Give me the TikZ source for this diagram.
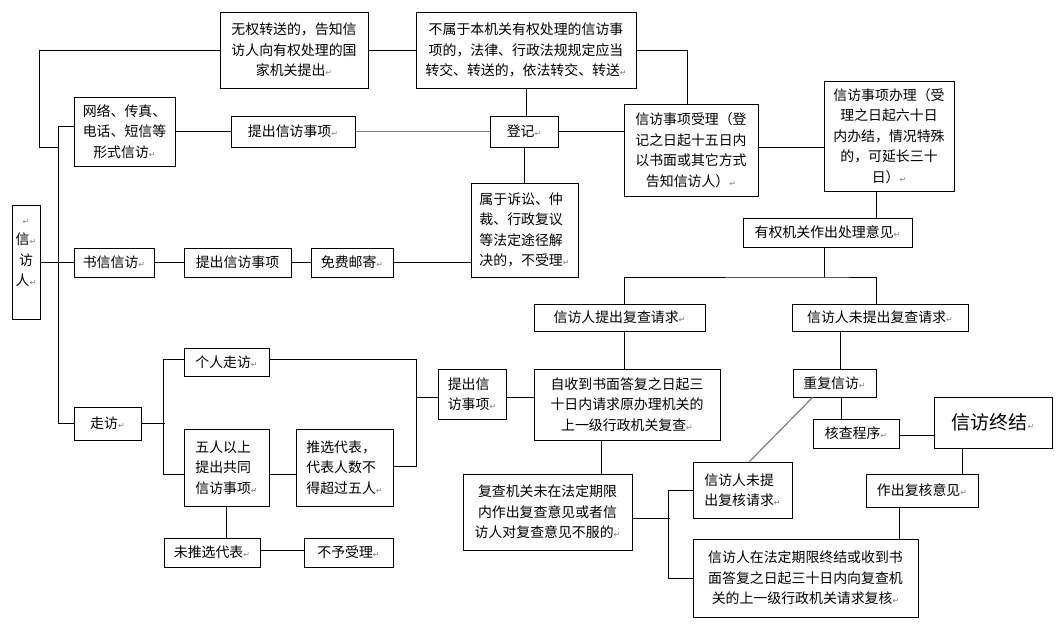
\documentclass[tikz,border=0pt]{standalone}
\usepackage{fontspec}
\usepackage{xcolor}
\usepackage{tikz}
\newfontfamily\cjk{Noto Sans CJK SC}
\newfontfamily\markfont{DejaVu Sans}
\definecolor{markgray}{RGB}{128,128,128}
\newcommand{\retmark}{{\markfont\fontsize{8}{8}\selectfont\textcolor{markgray}{↵}}}
\tikzset{
  rbox/.style={draw, line width=1pt, inner sep=0pt, align=center,
    font=\cjk\fontsize{13.9}{20.5}\selectfont},
  lbox/.style={rbox, align=left},
  link/.style={line width=1pt},
  glink/.style={line width=1.2pt, draw=markgray},
}

\begin{document}
\begin{tikzpicture}[x=1pt, y=-1pt]
\useasboundingbox (0,0) rectangle (1061,630);
% petitioner and channels
\node[rbox, minimum width=28pt, minimum height=114pt] (xfr) at (26,262.5) {\retmark\\信\retmark\\访\\人\retmark\\ \mbox{}};
\node[rbox, minimum width=101pt, minimum height=69pt] (wl) at (124.5,131.5) {网络、传真、\\电话、短信等\\形式信访\retmark};
\node[rbox, minimum width=80pt, minimum height=29pt] (sx) at (114,262.5) {书信信访\retmark};
\node[rbox, minimum width=67pt, minimum height=33pt] (zf) at (107.5,423.5) {走访\retmark};
\node[rbox, minimum width=124pt, minimum height=31pt] (tc1) at (293,131.5) {提出信访事项\retmark};
\node[rbox, minimum width=107pt, minimum height=29pt] (tc2) at (237.5,262.5) {提出信访事项};
\node[rbox, minimum width=82pt, minimum height=29pt] (mf) at (352,262.5) {免费邮寄\retmark};
% registration
\node[rbox, minimum width=148pt, minimum height=76pt] (wqzs) at (294,50) {无权转送的，告知信\\访人向有权处理的国\\家机关提出\retmark};
\node[rbox, minimum width=220pt, minimum height=76pt] (bsy) at (526,50) {不属于本机关有权处理的信访事\\项的，法律、行政法规规定应当\\转交、转送的，依法转交、转送\retmark};
\node[rbox, minimum width=68pt, minimum height=31pt] (dj) at (524,131.5) {登记\retmark};
\node[lbox, minimum width=107pt, minimum height=94pt] (bsl) at (524.5,230) {属于诉讼、仲\\裁、行政复议\\等法定途径解\\决的，不受理\retmark};
\node[rbox, minimum width=134pt, minimum height=92pt] (sl) at (691,150) {信访事项受理（登\\记之日起十五日内\\以书面或其它方式\\告知信访人）\retmark};
\node[rbox, minimum width=130pt, minimum height=110pt] (bl) at (889,136) {信访事项办理（受\\理之日起六十日\\内办结，情况特殊\\的，可延长三十\\日）\retmark};
\node[rbox, minimum width=169pt, minimum height=29pt] (yq) at (827.5,232.5) {有权机关作出处理意见\retmark};
\node[rbox, minimum width=171pt, minimum height=27pt] (tcfc) at (619.5,317.5) {信访人提出复查请求\retmark};
\node[rbox, minimum width=176pt, minimum height=27pt] (wtfc) at (880,317.5) {信访人未提出复查请求\retmark};
% visits
\node[rbox, minimum width=85pt, minimum height=28pt] (gr) at (226.5,362) {个人走访\retmark};
\node[lbox, minimum width=85pt, minimum height=77pt] (wr) at (226.5,467.5) {五人以上\\提出共同\\信访事项\retmark};
\node[lbox, minimum width=97pt, minimum height=77pt] (tx) at (344.5,467.5) {推选代表，\\代表人数不\\得超过五人\retmark};
\node[rbox, minimum width=96pt, minimum height=29pt] (wtx) at (212,552.5) {未推选代表\retmark};
\node[rbox, minimum width=89pt, minimum height=29pt] (byl) at (348.5,552.5) {不予受理\retmark};
\node[lbox, minimum width=68pt, minimum height=50pt] (tc3) at (472,394) {提出信\\访事项\retmark};
% review
\node[rbox, minimum width=186pt, minimum height=71pt] (fc) at (627,404.5) {自收到书面答复之日起三\\十日内请求原办理机关的\\上一级行政机关复查\retmark};
\node[rbox, minimum width=169pt, minimum height=76pt] (fj) at (547.5,512) {复查机关未在法定期限\\内作出复查意见或者信\\访人对复查意见不服的\retmark};
\node[lbox, minimum width=99pt, minimum height=56pt] (wtfh) at (742.5,490) {信访人未提\\出复核请求\retmark};
\node[rbox, minimum width=225pt, minimum height=78pt] (fh) at (805.5,578) {信访人在法定期限终结或收到书\\面答复之日起三十日内向复查机\\关的上一级行政机关请求复核\retmark};
\node[rbox, minimum width=83pt, minimum height=28pt] (cf) at (834.5,383) {重复信访\retmark};
\node[rbox, minimum width=86pt, minimum height=29pt] (hc) at (856,433.5) {核查程序\retmark};
\node[rbox, minimum width=118pt, minimum height=51pt, font=\cjk\fontsize{19}{22}\selectfont] (zj) at (993,422.5) {信访终结\retmark};
\node[rbox, minimum width=112pt, minimum height=33pt] (zfh) at (922,490.5) {作出复核意见\retmark};

% connectors
\draw[link] (wqzs.west) -- ++(-180,0) |- ++(19,97);
\draw[link] ([yshift=5]wl.west) -- ++(-15,0) |- (zf.west);
\draw[link] (xfr.east) -- (sx.west);
\draw[link] (sx.east) -- (tc2.west);
\draw[link] (tc2.east) -- (mf.west);
\draw[link] (mf.east) -- (mf.east -| bsl.west);
\draw[link] (wl.east) -- (tc1.west);
\draw[glink] (tc1.east) -- (dj.west);
\draw[link] (wqzs.east) -- (bsy.west);
\draw[link] ([xshift=2]dj.north) -- ([xshift=2]dj.north |- bsy.south);
\draw[link] (dj.south) -- (dj.south |- bsl.north);
\draw[link] (dj.east) -- (dj.east -| sl.west);
\draw[link] (bsy.east) -| ([xshift=-4]sl.north);
\draw[link] ([yshift=3]sl.east) -- ([yshift=3]sl.east -| bl.west);
\draw[link] ([xshift=-13]bl.south) -- ([xshift=-13]bl.south |- yq.north);
\draw[link] ([xshift=-3.5]yq.south) -- ++(0,29.5) coordinate (s1);
\draw[link] ([xshift=4.5]tcfc.north) |- (s1) -| ([xshift=-4]wtfc.north);
\draw[link] ([xshift=5]tcfc.south) -- ([xshift=5]tcfc.south |- fc.north);
\draw[link] ([xshift=6]cf.north) -- ([xshift=6]cf.north |- wtfc.south);
\draw[link] ([xshift=7]cf.south) -- ([xshift=7]cf.south |- hc.north);
\draw[glink] ([xshift=-22]cf.south) -- ([xshift=7]wtfh.north);
\draw[link] ([yshift=-1.5]hc.east) -- ([yshift=-1.5]hc.east -| zj.west);
\draw[link] ([xshift=-31]zj.south) -- ([xshift=-31]zj.south |- zfh.north);
\draw[link] ([xshift=-23]zfh.south) -- ([xshift=-23]zfh.south |- fh.north);
\draw[link] ([xshift=-26]fc.south) -- ([xshift=-26]fc.south |- fj.north);
\draw[link] ([yshift=-6]fj.east) -- ++(37,0);
\draw[link] (wtfh.west) -| ([xshift=-24]fh.west) -- (fh.west);
\draw[link] ([yshift=-3]tc3.east) -- ([yshift=-3]tc3.east -| fc.west);
% visit branches
\draw[link] (zf.east) -- ++(23,0);
\draw[link] ([yshift=3]gr.west) -- ++(-20,0) |- ([yshift=-6.5]wr.west);
\draw[link] ([yshift=3]gr.east) -- ++(147,0) |- ([yshift=1.5]tx.east);
\draw[link] ([yshift=-3]tc3.west) -- ++(-22,0);
\draw[link] ([yshift=-6.5]wr.east) -- ([yshift=-6.5]tx.west);
\draw[link] (wr.south) -- (wr.south |- wtx.north);
\draw[link] ([yshift=2.5]wtx.east) -- ([yshift=2.5]byl.west);
\end{tikzpicture}
\end{document}
